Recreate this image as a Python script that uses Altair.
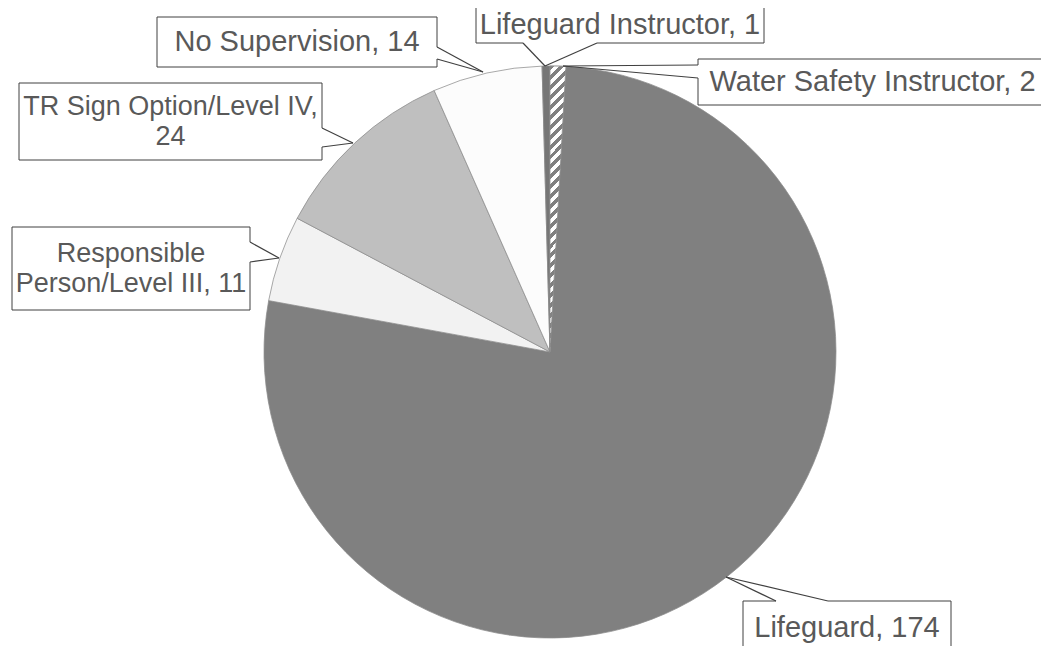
import altair as alt
import pandas as pd

# ---- data (clockwise from 12 o'clock) ----
categories = ["Water Safety Instructor", "Lifeguard", "Responsible Person/Level III",
              "TR Sign Option/Level IV", "No Supervision", "Lifeguard Instructor"]
values = [2, 174, 11, 24, 14, 1]

# ---- styles ----
fills = ["#ffffff", "#808080", "#f2f2f2", "#bfbfbf", "#fcfcfc", "#767676"]
TEXT_COLOR = "#595959"
LINE_COLOR = "#404040"
FONT = "Liberation Sans"
FONT_SIZE_1 = 29   # single-line labels
FONT_SIZE_2 = 27   # wrapped labels
LINE_H = 30

# ---- layout (page pixel coordinates) ----
W, H, M = 1033, 638, 8
CX, CY, R = 550, 352, 286
callouts = {
    "Lifeguard Instructor": dict(box=(476, 6, 764, 43), b1=(523, 43), b2=(597, 43), tip=(545, 66), ty=25, brk=None),
    "No Supervision": dict(box=(157, 17, 437, 67), b1=(437, 47), b2=(437, 59), tip=(483, 72), ty=42, brk=None),
    "Water Safety Instructor": dict(box=(698, 59, 1047, 105), b1=(698, 65), b2=(698, 78), tip=(563, 66), ty=82, brk=None),
    "TR Sign Option/Level IV": dict(box=(19, 83, 322, 160), b1=(322, 128), b2=(322, 147), tip=(353, 143), ty=122, brk="Option/Level IV, "),
    "Responsible Person/Level III": dict(box=(12, 227, 250, 310), b1=(250, 242), b2=(250, 262), tip=(279, 258), ty=269, brk="Responsible "),
    "Lifeguard": dict(box=(743, 601, 951, 670), b1=(776, 601), b2=(828, 601), tip=(726, 577), ty=628, brk=None),
}

total = sum(values)
pie_df = pd.DataFrame({"category": categories, "value": values, "order": list(range(len(values)))})

boxes, segs, texts = [], [], []
for cat, val in zip(categories, values):
    c = callouts[cat]
    x1, y1, x2, y2 = c["box"]
    boxes.append(dict(x=x1, x2=x2, y=y1, y2=y2))
    segs.append(dict(x=c["b1"][0], y=c["b1"][1], x2=c["b2"][0], y2=c["b2"][1], kind="erase"))
    segs.append(dict(x=c["b1"][0], y=c["b1"][1], x2=c["tip"][0], y2=c["tip"][1], kind="line"))
    segs.append(dict(x=c["b2"][0], y=c["b2"][1], x2=c["tip"][0], y2=c["tip"][1], kind="line"))
    label = f"{cat}, {val}"
    ty = c["ty"]
    fs = FONT_SIZE_1
    if c["brk"]:
        label = label.replace(c["brk"], c["brk"].rstrip() + "\n")
        ty = ty - LINE_H / 2
        fs = FONT_SIZE_2
    texts.append(dict(x=(x1 + x2) / 2, y=ty, label=label, fs=fs))

boxes_df = pd.DataFrame(boxes)
segs_df = pd.DataFrame(segs)
texts_df = pd.DataFrame(texts)

xs = alt.Scale(domain=[M, M + W], range=[0, W])
ys = alt.Scale(domain=[M, M + H], range=[0, H])

def stacked(df):
    return alt.Chart(df).transform_stack(
        stack="value", groupby=[], as_=["v0", "v1"],
        sort=[alt.SortField("order", order="ascending")]
    )

theta = alt.Theta("v0:Q", scale=alt.Scale(domain=[0, total]))

pie = stacked(pie_df).mark_arc(radius=R, stroke="#8c8c8c", strokeWidth=0.75).encode(
    theta=theta, theta2="v1:Q",
    color=alt.Color("category:N", scale=alt.Scale(domain=categories, range=fills), legend=None),
    x=alt.value(CX - M), y=alt.value(CY - M),
)

# hatch for Water Safety Instructor slice (diagonal stripes via hard-stop gradient)
n = 29
stops = []
for i in range(n):
    a, b, c2 = i / n, (i + 0.5) / n, (i + 1) / n
    stops += [dict(offset=a, color="#808080"), dict(offset=b, color="#808080"),
              dict(offset=b, color="#ffffff"), dict(offset=c2, color="#ffffff")]
hatch_fill = dict(gradient="linear", x1=0, y1=0, x2=0.056, y2=1, stops=stops)

hatch = stacked(pie_df).transform_filter(
    alt.datum.category == "Water Safety Instructor"
).mark_arc(radius=R, fill=hatch_fill, stroke="#8c8c8c", strokeWidth=0.75).encode(
    theta=theta, theta2="v1:Q",
    x=alt.value(CX - M), y=alt.value(CY - M),
)

box_layer = alt.Chart(boxes_df).mark_rect(fill="white", stroke=LINE_COLOR, strokeWidth=1).encode(
    x=alt.X("x:Q", scale=xs, axis=None), x2="x2:Q",
    y=alt.Y("y:Q", scale=ys, axis=None), y2="y2:Q",
)

erase_layer = alt.Chart(segs_df).transform_filter(alt.datum.kind == "erase").mark_rule(
    stroke="white", strokeWidth=2.5
).encode(
    x=alt.X("x:Q", scale=xs, axis=None), x2="x2:Q",
    y=alt.Y("y:Q", scale=ys, axis=None), y2="y2:Q",
)

line_layer = alt.Chart(segs_df).transform_filter(alt.datum.kind == "line").mark_rule(
    stroke=LINE_COLOR, strokeWidth=1.2
).encode(
    x=alt.X("x:Q", scale=xs, axis=None), x2="x2:Q",
    y=alt.Y("y:Q", scale=ys, axis=None), y2="y2:Q",
)

text_layer = alt.Chart(texts_df).mark_text(
    font=FONT, color=TEXT_COLOR, align="center", baseline="middle",
    lineBreak="\n", lineHeight=LINE_H
).encode(
    x=alt.X("x:Q", scale=xs, axis=None),
    y=alt.Y("y:Q", scale=ys, axis=None),
    size=alt.Size("fs:Q", scale=None, legend=None),
    text="label:N",
)

chart = alt.layer(pie, hatch, box_layer, erase_layer, line_layer, text_layer).properties(
    width=W, height=H, padding=0,
    autosize=alt.AutoSizeParams(type="none"),
    background="white",
).configure_view(stroke=None)

chart.save("out.html", embed_options={"renderer": "svg", "actions": False})
